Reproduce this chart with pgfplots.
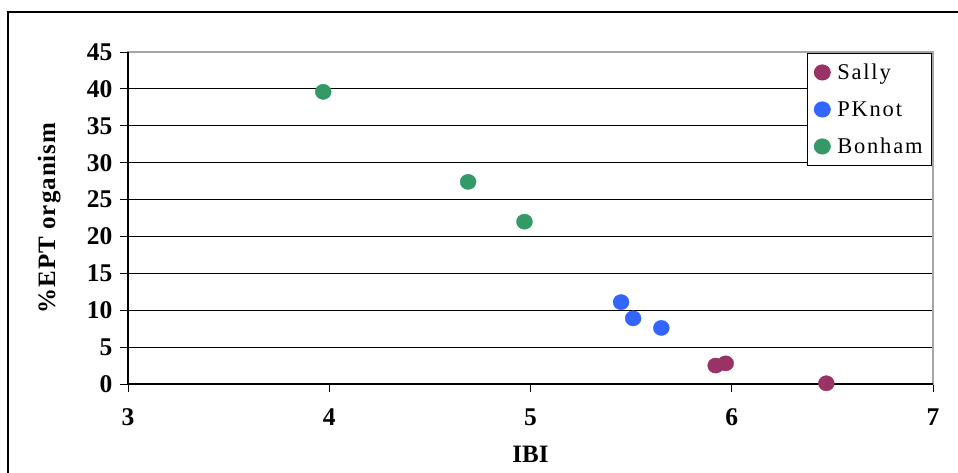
\documentclass[border=0pt]{standalone}
\usepackage{fontspec}
\setmainfont{Liberation Serif}
\usepackage{pgfplots}
\pgfplotsset{compat=1.18}
\definecolor{sally}{RGB}{153,51,102}
\definecolor{pknot}{RGB}{51,102,255}
\definecolor{bonham}{RGB}{51,153,102}
\begin{document}
\begin{tikzpicture}
\useasboundingbox (0pt,0pt) rectangle (958pt,-472pt);
\draw[line width=1.2pt] (8pt,-490pt) -- (8pt,-12pt) -- (980pt,-12pt);
\begin{axis}[
  at={(128pt,-384pt)}, anchor=south west,
  scale only axis, width=805pt, height=332pt,
  xmin=3, xmax=7, ymin=0, ymax=45,
  xtick={3,4,5,6,7}, ytick={0,5,...,45},
  xtick pos=bottom, ytick pos=left,
  tick align=outside, major tick length=8pt,
  tick style={black, line width=0.9pt},
  ymajorgrids, grid style={black, line width=0.9pt},
  axis line style={draw=gray!70, line width=1.2pt},
  /pgf/number format/assume math mode=true,
  tick label style={font=\fontsize{25.5}{30}\selectfont\bfseries},
  xticklabel style={yshift=-13pt},
  yticklabel style={xshift=-4pt},
  xlabel={IBI},
  ylabel={\%EPT organism},
  every axis x label/.style={at={(axis description cs:0.5,-0.212)}, anchor=center, font=\fontsize{25}{30}\selectfont\bfseries},
  every axis y label/.style={at={(axis description cs:-0.098,0.5)}, anchor=center, rotate=90, font=\fontsize{25}{30}\selectfont\bfseries\addfontfeature{LetterSpace=4}},
  legend image code/.code={\draw[#1] plot coordinates {(0pt,0pt)};},
  legend cell align=left,
  legend style={at={(1,1)}, anchor=north east, xshift=-1pt, yshift=-1pt,
    draw=black, line width=0.9pt, inner xsep=7pt, inner ysep=6pt,
    row sep=11pt, column sep=5pt,
    font=\fontsize{22.5}{27}\selectfont\addfontfeature{LetterSpace=8},
    nodes={inner xsep=2pt, inner ysep=3pt, text height=17pt, text depth=3pt}},
  clip=false,
]
\addplot[only marks, mark=*, mark size=7.6pt, color=sally, mark options={draw=sally, fill=sally, xscale=1.05}]
  coordinates {(5.92,2.5) (5.97,2.8) (6.47,0.1)};
\addlegendentry{Sally}
\addplot[only marks, mark=*, mark size=7.6pt, color=pknot, mark options={draw=pknot, fill=pknot, xscale=1.05}]
  coordinates {(5.45,11.1) (5.51,8.9) (5.65,7.6)};
\addlegendentry{PKnot}
\addplot[only marks, mark=*, mark size=7.6pt, color=bonham, mark options={draw=bonham, fill=bonham, xscale=1.05}]
  coordinates {(3.97,39.6) (4.69,27.4) (4.97,22.0)};
\addlegendentry{Bonham}
\draw[black, line width=1.4pt] (rel axis cs:0,1) -- (rel axis cs:0,0) -- (rel axis cs:1,0);
\end{axis}
\end{tikzpicture}
\end{document}
